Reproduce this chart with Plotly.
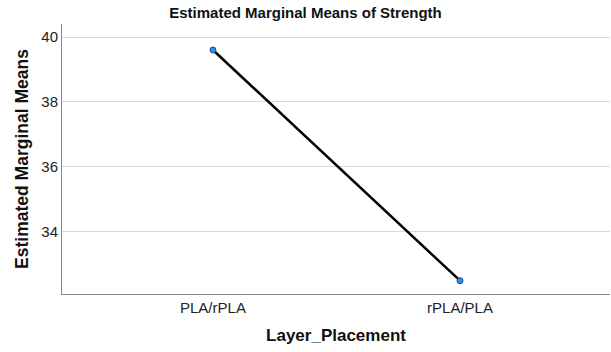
import plotly.graph_objects as go

categories = ["PLA/rPLA", "rPLA/PLA"]
means = [39.6, 32.5]
y_ticks = [34, 36, 38, 40]

fig = go.Figure()
fig.add_trace(go.Scatter(
    x=[0, 1], y=means, mode="lines+markers",
    line=dict(color="black", width=2.5),
    marker=dict(size=6, color="#2f8fe0", line=dict(color="#1a4f80", width=1)),
    showlegend=False,
))

font = "Liberation Sans, Arial, sans-serif"
fig.update_layout(
    width=611, height=352,
    margin=dict(l=62, r=1, t=24, b=58),
    paper_bgcolor="white", plot_bgcolor="white",
    font=dict(family=font, size=15, color="#222"),
    title=dict(text="<b>Estimated Marginal Means of Strength</b>", x=0.5, xanchor="center",
               y=1 - 13 / 352, yanchor="middle", font=dict(size=15, color="#111")),
    xaxis=dict(
        tickmode="array", tickvals=[0, 1], ticktext=categories,
        range=[-0.611, 1.607], showgrid=False, zeroline=False,
        showline=True, linecolor="#888", linewidth=1, ticks="",
        title=dict(text="<b>Layer_Placement</b>", font=dict(size=17, color="#111"), standoff=14),
        tickfont=dict(size=15),
    ),
    yaxis=dict(
        tickmode="array", tickvals=y_ticks, ticktext=[str(v) for v in y_ticks],
        range=[32.09, 40.4], showgrid=True, gridcolor="#d9d9d9", gridwidth=1,
        zeroline=False, showline=True, linecolor="#888", linewidth=1, ticks="",
        title=dict(text="<b>Estimated Marginal Means</b>", font=dict(size=17.5, color="#111"), standoff=8),
        tickfont=dict(size=15),
    ),
)
fig.write_html("out.html")
